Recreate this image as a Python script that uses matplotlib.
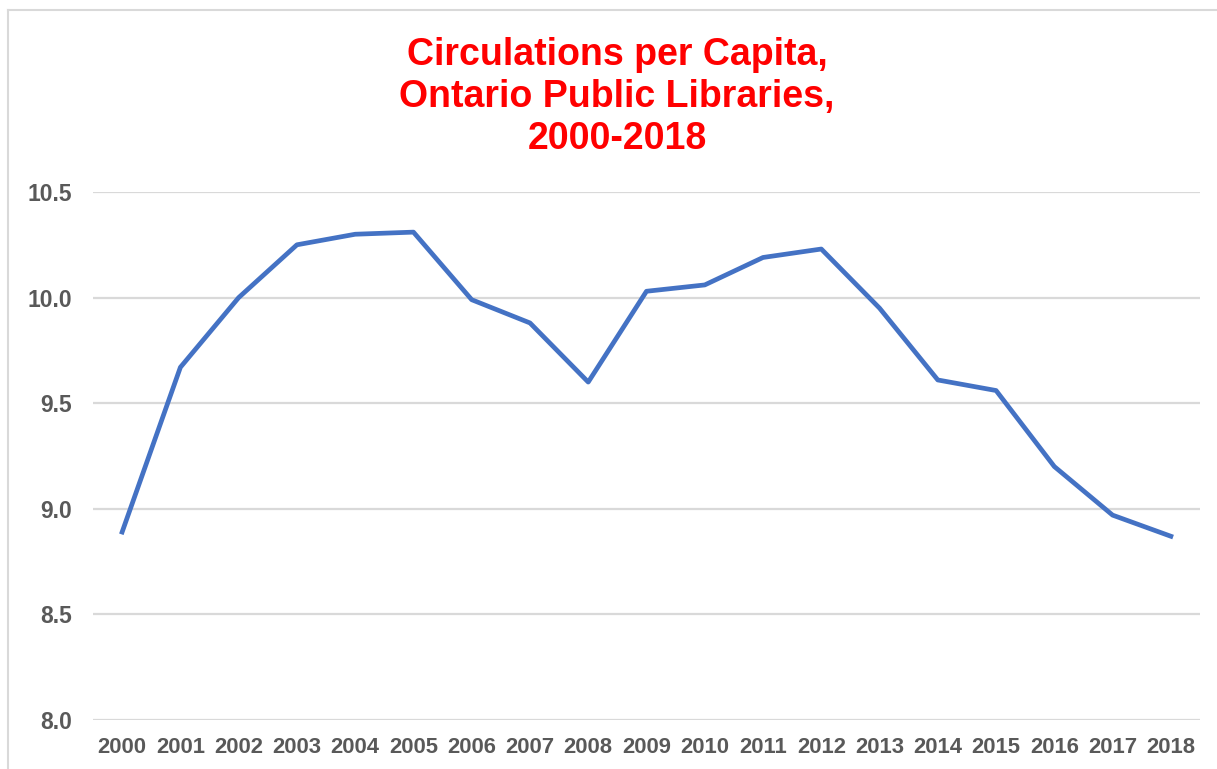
import matplotlib.pyplot as plt
from matplotlib.lines import Line2D

# Daten
years = [str(y) for y in range(2000, 2019)]
circ_per_capita = [8.89, 9.67, 10.00, 10.25, 10.30, 10.31, 9.99, 9.88, 9.60,
                   10.03, 10.06, 10.19, 10.23, 9.95, 9.61, 9.56, 9.20, 8.97, 8.87]
y_ticks = [8.0, 8.5, 9.0, 9.5, 10.0, 10.5]

W, H = 1217, 769
plt.rcParams['font.family'] = ['Liberation Sans', 'DejaVu Sans']

fig = plt.figure(figsize=(W / 100, H / 100), dpi=100)
ax = fig.add_axes([93 / W, 1 - 720 / H, (1200 - 93) / W, (720 - 192) / H])

x = range(len(years))
ax.plot(x, circ_per_capita, color='#4472C4', linewidth=3.4, solid_joinstyle='round')

ax.set_xlim(-0.5, len(years) - 0.5)
ax.set_ylim(8.0, 10.5)
ax.set_yticks(y_ticks)
ax.set_yticklabels([f"{v:.1f}" for v in y_ticks])
ax.set_xticks(list(x))
ax.set_xticklabels(years)

ax.grid(axis='y', color='#D9D9D9', linewidth=1.6)
ax.set_axisbelow(True)
for s in ax.spines.values():
    s.set_visible(False)
ax.tick_params(axis='both', length=0, colors='#595959')
ax.tick_params(axis='y', labelsize=16.5, pad=15)
ax.tick_params(axis='x', labelsize=15.8, pad=12)
for lab in ax.get_xticklabels() + ax.get_yticklabels():
    lab.set_fontweight('bold')

fig.text(617 / W, 1 - 97 / H, "Circulations per Capita,\nOntario Public Libraries,\n2000-2018",
         ha='center', va='center', color='#FF0000', fontsize=27, fontweight='bold',
         linespacing=1.2)

# Rahmen des Diagramms
fig.add_artist(Line2D([8 / W, 8 / W], [0, 1 - 10 / H], transform=fig.transFigure,
                      color='#D9D9D9', linewidth=1.5))
fig.add_artist(Line2D([8 / W, 1], [1 - 10 / H, 1 - 10 / H], transform=fig.transFigure,
                      color='#D9D9D9', linewidth=1.5))

fig.savefig("out.png", dpi=100)
